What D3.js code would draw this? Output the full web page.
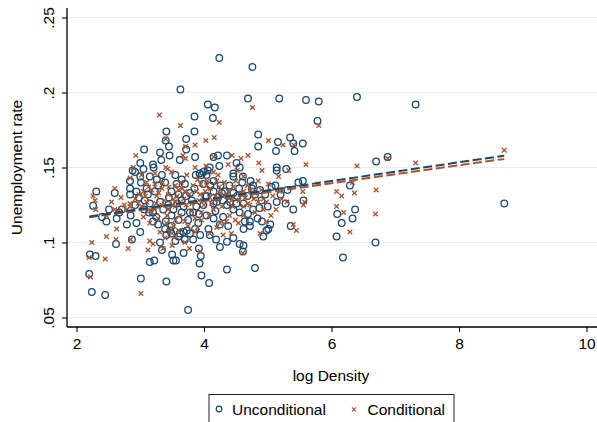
<!DOCTYPE html>
<html>
<head>
<meta charset="utf-8">
<script src="https://cdn.jsdelivr.net/npm/d3@7"></script>
<style>
  html, body { margin: 0; padding: 0; background: #fff; }
  svg { display: block; font-family: "Liberation Sans", Arial, sans-serif; }
</style>
</head>
<body>
<svg id="chart" width="597" height="422"></svg>
<script>
// Unemployment rate vs. log density, unconditional and conditional values
const uncondPoints = [
  [4.24,.223],[4.76,.217],[3.63,.202],[4.69,.196],[5.18,.196],[5.60,.195],[5.80,.194],[6.40,.197],[7.32,.192],[4.06,.192],
  [4.17,.190],[3.85,.184],[4.14,.183],[5.78,.181],[3.41,.174],[3.85,.174],[4.85,.172],[3.72,.169],[5.35,.170],[5.16,.167],
  [5.55,.166],[3.40,.168],[3.45,.164],[4.85,.164],[3.06,.162],[3.72,.162],[5.42,.161],[5.13,.161],[3.31,.160],[3.46,.158],
  [3.86,.157],[4.22,.158],[4.36,.158],[3.62,.155],[4.15,.157],[3.20,.152],[3.00,.153],[3.33,.155],[4.51,.153],[4.56,.150],
  [4.24,.151],[5.14,.150],[5.29,.149],[2.88,.148],[3.05,.149],[2.92,.147],[3.21,.150],[2.84,.141],[2.84,.136],[2.31,.134],
  [2.60,.133],[3.00,.144],[3.26,.142],[3.87,.145],[3.93,.146],[4.06,.148],[4.46,.146],[4.61,.144],[4.73,.141],[4.88,.135],
  [5.12,.138],[5.31,.135],[5.48,.140],[6.70,.154],[6.88,.157],[6.29,.138],[5.55,.141],[8.71,.126],[6.09,.119],[6.37,.122],
  [6.16,.113],[6.33,.116],[6.08,.104],[6.69,.100],[6.18,.090],
  [2.26,.1245],[2.51,.122],[2.40,.117],[2.47,.114],[2.63,.116],[2.71,.122],[2.79,.112],[2.85,.118],[2.94,.113],[3.00,.107],
  [2.87,.102],[2.62,.099],[2.21,.092],[2.30,.091],[2.20,.079],[2.24,.067],[2.45,.065],[3.01,.076],[3.15,.087],[3.22,.088],
  [3.41,.074],[3.34,.095],[3.31,.100],[3.50,.092],[3.52,.088],[3.56,.088],[3.68,.093],[3.75,.055],[3.92,.096],[3.93,.086],
  [3.95,.091],[3.96,.078],[4.08,.073],[4.36,.082],[4.80,.083],[4.25,.097],[4.09,.105],[4.36,.1005],[4.46,.103],[4.56,.099],
  [4.61,.094],[4.62,.109],[4.72,.111],[4.93,.104],[4.98,.108],[5.04,.112],[5.36,.111],[5.28,.126],[5.40,.122],[4.87,.123],
  [4.84,.116],[4.69,.119],[3.60,.115],[3.78,.120],[3.73,.108],[3.62,.106],[3.47,.108],[3.41,.105],[3.20,.120],[3.15,.126],
  [3.34,.145],[3.15,.144],[3.55,.145],[3.65,.142],[3.96,.145],[3.01,.140],[3.39,.140],[3.57,.139],[3.70,.139],[2.94,.134],
  [3.12,.132],[3.23,.134],[3.49,.134],[3.60,.132],[3.78,.133],[2.84,.132],[3.07,.128],[3.31,.127],[3.65,.128],[3.81,.128],
  [5.40,.166],[4.09,.150],[3.99,.147],[4.04,.145],[5.14,.148],[4.46,.144],[4.15,.141],[3.99,.139],[4.26,.138],[4.77,.138],
  [5.06,.137],[4.75,.136],[4.15,.134],[4.33,.134],[4.46,.133],[4.04,.131],[4.22,.130],[4.80,.132],[4.96,.132],[4.41,.127],
  [4.62,.126],[5.14,.127],[5.56,.128],
  [2.67,.120],[3.06,.122],[3.14,.120],[2.92,.125],[3.28,.112],[3.39,.109],[3.49,.111],[3.49,.106],[3.60,.104],[3.68,.107],
  [3.78,.106],[3.70,.102],[3.55,.101],[3.83,.120],[3.75,.115],[3.91,.113],[3.65,.120],[3.49,.118],[3.36,.122],[3.20,.114],
  [3.83,.102],[3.94,.105],
  [3.99,.125],[4.15,.126],[4.36,.125],[4.46,.122],[4.51,.126],[4.04,.118],[4.15,.116],[4.07,.109],[4.25,.112],[4.30,.117],
  [4.56,.120],[4.64,.114],[4.72,.114],[4.91,.114],[5.01,.109],[4.77,.122],[4.19,.102],[4.62,.098],
  [3.58,.126],[3.72,.131],[4.02,.131],[4.18,.121],[4.30,.128],[3.44,.125],[4.52,.131],[3.88,.124],
  [2.98,.130],[3.10,.136],[3.28,.138],[3.45,.130],[3.52,.122],[3.68,.124],[3.85,.136],[3.92,.119],[4.10,.138],[4.20,.127],
  [4.28,.133],[4.40,.138],[4.55,.136],[4.68,.131],[4.90,.128],[5.00,.124],[3.25,.117],[3.40,.114],[3.86,.109],[4.38,.111],
  [4.60,.140],[5.20,.132]
];

const condPoints = [
  [3.30,.185],[3.63,.178],[4.76,.190],[4.24,.180],[4.16,.170],[4.03,.168],[3.40,.169],[3.71,.164],[2.93,.158],[5.01,.168],
  [5.24,.165],[4.69,.158],[4.86,.153],[4.91,.148],[5.33,.148],[4.44,.158],[4.38,.152],[3.71,.156],[4.03,.151],[2.60,.136],
  [2.89,.150],[5.41,.165],[3.67,.158],[3.43,.149],
  [5.80,.178],[5.60,.152],[6.40,.151],[7.32,.153],[6.88,.156],[8.71,.1615],[5.79,.139],[6.08,.134],[6.16,.131],[6.36,.133],
  [6.70,.135],[6.33,.140],[5.55,.134],[6.08,.124],[6.19,.120],[6.69,.119],[6.29,.107],[5.56,.125],
  [2.24,.100],[2.20,.090],[2.22,.077],[2.45,.089],[2.47,.104],[2.62,.102],[2.63,.109],[2.81,.096],[2.85,.102],[3.01,.066],
  [3.12,.095],[3.15,.101],[3.20,.099],[3.36,.096],[3.50,.098],[3.77,.096],[3.94,.094],[2.30,.122],[2.60,.122],[2.79,.122],
  [4.61,.093],[4.88,.106],[5.40,.112],[5.45,.108],[5.13,.122],
  [3.86,.165],[3.40,.150],[3.49,.147],[3.86,.150],[3.23,.146],[3.02,.145],[3.73,.145],[2.84,.143],[3.10,.140],[3.23,.139],
  [3.55,.138],[3.83,.138],[2.26,.131],[2.29,.128],[3.18,.135],[3.34,.136],[3.05,.134],[3.26,.131],[3.44,.132],[3.70,.134],
  [3.94,.132],[2.84,.126],[3.10,.127],[3.55,.127],[3.81,.126],
  [4.58,.156],[4.15,.157],[4.52,.148],[5.17,.144],[4.62,.144],[4.85,.141],[4.22,.145],[4.15,.147],[5.01,.139],[4.04,.138],
  [4.46,.137],[5.19,.134],[4.62,.134],[4.25,.133],[4.80,.133],[4.09,.130],[4.43,.128],[4.93,.129],[5.30,.127],[5.58,.127],
  [4.69,.126],
  [2.47,.118],[2.66,.121],[2.84,.124],[2.97,.126],[3.34,.125],[3.55,.124],[3.28,.116],[3.41,.113],[3.31,.107],[3.60,.108],
  [3.75,.111],[3.86,.116],[3.96,.120],[3.86,.107],[3.39,.103],[3.70,.100],[3.18,.120],[3.44,.122],[3.55,.115],[3.47,.107],
  [3.55,.104],
  [4.15,.122],[4.25,.113],[3.96,.115],[4.09,.106],[4.43,.106],[4.30,.105],[4.62,.124],[4.72,.125],[4.98,.127],[5.05,.118],
  [4.98,.114],[4.49,.115],[4.54,.113],[4.80,.120],[4.93,.122],
  [3.58,.131],[3.66,.136],[3.92,.128],[4.02,.134],[4.12,.126],[4.20,.141],[4.35,.131],[4.55,.128],[4.68,.138],[3.38,.128],
  [3.15,.121],[2.98,.132],[4.28,.124],[4.40,.118],[3.72,.125],[3.95,.139],[4.08,.118],[3.62,.118],[3.25,.126],[4.85,.127],
  [2.55,.127],[2.70,.130],[2.75,.125],[2.92,.129],[3.02,.124],[3.08,.131],[3.13,.137],[3.22,.123],[3.29,.133],[3.35,.140],
  [3.45,.137],[3.52,.129],[3.60,.135],[3.64,.140],[3.68,.129],[3.77,.132],[3.80,.121],[3.88,.134],[3.90,.142],[4.00,.125],
  [4.05,.141],[4.10,.136],[4.18,.131],[4.24,.137],[4.32,.140],[4.38,.134],[4.45,.124],[4.50,.141],[4.58,.133],[4.65,.130],
  [4.73,.135],[4.78,.129],[4.90,.135],[5.08,.131],[5.22,.129],[3.42,.118],[3.52,.111],[3.70,.114],[3.90,.110],[4.20,.110],
  [4.35,.114],[4.62,.118],[3.15,.113],[3.05,.117]
];

// Linear fits (endpoints at the smallest and largest log density)
const uncondFit = [[2.20, .1173], [8.71, .1579]];
const condFit   = [[2.20, .1168], [8.71, .1557]];

const xTicks = [2, 4, 6, 8, 10];
const yTicks = [0.05, 0.10, 0.15, 0.20, 0.25];
const yTickLabels = [".05", ".1", ".15", ".2", ".25"];
const seriesNames = ["Unconditional", "Conditional"];

const navy = "#1a476f";
const sienna = "#a9552c";

const svg = d3.select("#chart");

const plot = { left: 67, right: 597, top: 8, bottom: 327 };
const x = d3.scaleLinear().domain([2, 10]).range([76.5, 586.5]);
const y = d3.scaleLinear().domain([0.05, 0.25]).range([317.5, 17.5]);

// grid lines
svg.append("g")
  .selectAll("line")
  .data(yTicks)
  .join("line")
  .attr("x1", plot.left).attr("x2", plot.right)
  .attr("y1", d => y(d)).attr("y2", d => y(d))
  .attr("stroke", "#e6eff1").attr("stroke-width", 1.2);

// axes
const xAxis = d3.axisBottom(x).tickValues(xTicks).tickSize(5).tickPadding(4)
  .tickFormat(d3.format("d"));
const gx = svg.append("g").attr("transform", `translate(0,${plot.bottom})`).call(xAxis);
gx.select(".domain").attr("d", `M${plot.left},0H${plot.right}`).attr("stroke", "#000").attr("stroke-width", 1.3);
gx.selectAll(".tick line").attr("stroke", "#000").attr("stroke-width", 1.1);
gx.selectAll(".tick text").attr("font-size", 15.5).attr("fill", "#000")
  .attr("font-family", "Liberation Sans, Arial, sans-serif").attr("dy", null).attr("y", 21.5);

const yAxis = d3.axisLeft(y).tickValues(yTicks).tickSize(5)
  .tickFormat((d, i) => yTickLabels[i]);
const gy = svg.append("g").attr("transform", `translate(${plot.left},0)`).call(yAxis);
gy.select(".domain").attr("d", `M0,${plot.top}V${plot.bottom}`).attr("stroke", "#000").attr("stroke-width", 1.3);
gy.selectAll(".tick line").attr("stroke", "#000").attr("stroke-width", 1.1);
gy.selectAll(".tick text")
  .attr("font-size", 15.5).attr("fill", "#000")
  .attr("font-family", "Liberation Sans, Arial, sans-serif")
  .attr("x", null).attr("dy", null)
  .attr("text-anchor", "middle")
  .attr("transform", "translate(-13.5,0) rotate(-90)");

// axis titles
svg.append("text")
  .attr("x", (plot.left + plot.right) / 2 - 1).attr("y", 381)
  .attr("text-anchor", "middle").attr("font-size", 15.5).attr("fill", "#000")
  .text("log Density");
svg.append("text")
  .attr("transform", `translate(21.5,${(plot.top + plot.bottom) / 2}) rotate(-90)`)
  .attr("text-anchor", "middle").attr("font-size", 15.5).attr("fill", "#000")
  .text("Unemployment rate");

// markers
function xPath(cx, cy, h) {
  return `M${cx - h},${cy - h}L${cx + h},${cy + h}M${cx - h},${cy + h}L${cx + h},${cy - h}`;
}

svg.append("g")
  .selectAll("circle")
  .data(uncondPoints)
  .join("circle")
  .attr("cx", d => x(d[0])).attr("cy", d => y(d[1]))
  .attr("r", 3.3)
  .attr("fill", "none").attr("stroke", navy).attr("stroke-width", 1.3);

svg.append("g")
  .selectAll("path")
  .data(condPoints)
  .join("path")
  .attr("d", d => xPath(x(d[0]), y(d[1]), 2.3))
  .attr("fill", "none").attr("stroke", sienna).attr("stroke-width", 1.3);

// fitted lines
const line = d3.line().x(d => x(d[0])).y(d => y(d[1]));
svg.append("path").datum(condFit).attr("d", line)
  .attr("fill", "none").attr("stroke", sienna).attr("stroke-width", 2)
  .attr("stroke-dasharray", "9,3.5");
svg.append("path").datum(uncondFit).attr("d", line)
  .attr("fill", "none").attr("stroke", navy).attr("stroke-width", 2)
  .attr("stroke-dasharray", "9,3.5");

// legend
const lg = svg.append("g");
lg.append("rect").attr("x", 209).attr("y", 394.5).attr("width", 245).attr("height", 40)
  .attr("fill", "#fff").attr("stroke", "#222").attr("stroke-width", 1);
lg.append("circle").attr("cx", 219).attr("cy", 409).attr("r", 2.8)
  .attr("fill", "none").attr("stroke", navy).attr("stroke-width", 1.2);
lg.append("text").attr("x", 232).attr("y", 414.5).attr("font-size", 15.5).attr("fill", "#000")
  .text(seriesNames[0]);
lg.append("path").attr("d", xPath(354, 409.3, 2))
  .attr("fill", "none").attr("stroke", sienna).attr("stroke-width", 1.2);
lg.append("text").attr("x", 367.5).attr("y", 414.5).attr("font-size", 15.5).attr("fill", "#000")
  .text(seriesNames[1]);
</script>
</body>
</html>
